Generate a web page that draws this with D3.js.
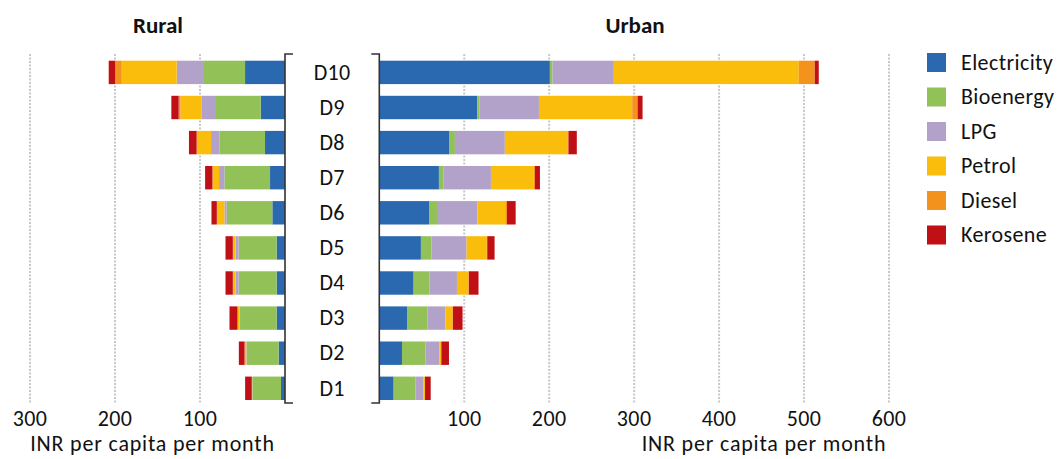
<!DOCTYPE html>
<html><head><meta charset="utf-8">
<script src="https://cdn.jsdelivr.net/npm/d3@7"></script>
<style>
body{margin:0;background:#fff;}
text{font-family:Carlito, Lato, "Open Sans", sans-serif;fill:#111;}
.lbl{font-size:22px;letter-spacing:0.4px;}
.ttl{font-size:22px;letter-spacing:0.8px;}
</style></head>
<body><svg id="c" width="1060" height="459"></svg>
<script>
const deciles = ["D1","D2","D3","D4","D5","D6","D7","D8","D9","D10"];
const fuels = ["Electricity","Bioenergy","LPG","Petrol","Diesel","Kerosene"];
const colors = ["#2a69b0","#92c157","#b2a2ca","#fbbd0b","#f4921e","#c01015"];
// Rural values, D1..D10
const ruralElectricity = [4.7, 7.5, 9.8, 9.8, 9.8, 14.9, 17.6, 23.5, 28.6, 47];
const ruralBioenergy   = [33.7, 37.6, 43.1, 44.7, 44.7, 53.7, 53.7, 53.7, 53.7, 49.4];
const ruralLPG         = [0.3, 0.5, 0.6, 3.5, 3.5, 2.7, 6.3, 9.8, 16.1, 31];
const ruralPetrol      = [0.4, 2.0, 2.4, 3.1, 3.1, 8.6, 7.5, 16.5, 24.7, 64.7];
const ruralDiesel      = [0, 0, 0, 0.3, 0.3, 0.3, 0.3, 0.5, 2.0, 7.8];
const ruralKerosene    = [7.8, 6.7, 9.4, 8.6, 8.6, 6.3, 8.6, 9.0, 8.6, 7.5];
// Urban values, D1..D10
const urbanElectricity = [16.9, 26.7, 32.6, 40.4, 49, 58.5, 70.2, 82.7, 115.3, 200.8];
const urbanBioenergy   = [25.9, 27.5, 24.3, 18.8, 12.5, 9.4, 5.1, 6.3, 2.4, 3.1];
const urbanLPG         = [9.0, 16.5, 20.8, 32.2, 41.2, 47.5, 56.1, 58.8, 70.2, 72.2];
const urbanPetrol      = [2.0, 2.0, 8.6, 13.7, 23.9, 32.9, 50.2, 73.7, 109.8, 217.7];
const urbanDiesel      = [0, 0.3, 0.3, 0.3, 0.5, 2.0, 1.6, 1.2, 6.3, 18.8];
const urbanKerosene    = [6.7, 9.0, 11.4, 11.4, 8.6, 10.2, 5.9, 9.8, 5.9, 4.7];
const ruralTicks = [100, 200, 300];
const urbanTicks = [100, 200, 300, 400, 500, 600];
const axisTitle = "INR per capita per month";

const ruralSeries = [ruralElectricity, ruralBioenergy, ruralLPG, ruralPetrol, ruralDiesel, ruralKerosene];
const urbanSeries = [urbanElectricity, urbanBioenergy, urbanLPG, urbanPetrol, urbanDiesel, urbanKerosene];

function table(series){
  return deciles.map((d,i)=>{const o={decile:d}; fuels.forEach((f,j)=>o[f]=series[j][i]); return o;});
}

const svg = d3.select("#c");
const y = d3.scaleBand().domain(deciles.slice().reverse()).range([60.7, 400]).paddingInner(0.333).paddingOuter(0);
const xR = d3.scaleLinear().domain([0,300]).range([285,30]);
const xU = d3.scaleLinear().domain([0,600]).range([379.3,889]);
const color = d3.scaleOrdinal().domain(fuels).range(colors);
const stack = d3.stack().keys(fuels);
const gTop = 54, gBot = 403;

// gridlines
function grid(x, ticks){
  svg.append("g").selectAll("line").data(ticks).join("line")
    .attr("x1",d=>x(d)).attr("x2",d=>x(d)).attr("y1",gTop).attr("y2",gBot)
    .attr("stroke","#c8c8c8").attr("stroke-width",2).attr("stroke-dasharray","2,1.5");
  svg.append("g").selectAll("text").data(ticks).join("text").attr("class","lbl")
    .attr("x",d=>x(d)).attr("y",426).attr("text-anchor","middle").text(d=>d);
}
grid(xR, ruralTicks); grid(xU, urbanTicks);

function bars(x, series){
  const st = stack(table(series));
  svg.append("g").selectAll("g").data(st).join("g").attr("fill",d=>color(d.key))
    .selectAll("rect").data(d=>d).join("rect")
    .attr("x",d=>Math.min(x(d[0]),x(d[1])))
    .attr("width",d=>Math.abs(x(d[1])-x(d[0])))
    .attr("y",d=>y(d.data.decile)).attr("height",y.bandwidth());
}
bars(xR, ruralSeries); bars(xU, urbanSeries);

// bracket axes
const ax = svg.append("g").attr("stroke","#333").attr("stroke-width",1.6).attr("fill","none");
ax.append("path").attr("d",`M${xR(0)+8},${gTop}H${xR(0)}V${gBot}H${xR(0)+8}`);
ax.append("path").attr("d",`M${xU(0)-8},${gTop}H${xU(0)}V${gBot}H${xU(0)-8}`);

// decile labels
svg.append("g").selectAll("text").data(deciles).join("text").attr("class","lbl")
  .attr("x",(xR(0)+xU(0))/2).attr("y",d=>y(d)+y.bandwidth()/2).attr("dy","0.33em")
  .attr("text-anchor","middle").text(d=>d);

// titles
svg.append("text").attr("x",158).attr("y",33).attr("text-anchor","middle")
  .style("font-size","23px").style("font-weight","bold").text("Rural");
svg.append("text").attr("x",635).attr("y",33).attr("text-anchor","middle")
  .style("font-size","23px").style("font-weight","bold").text("Urban");
svg.append("text").attr("class","ttl").attr("x",152.5).attr("y",451).attr("text-anchor","middle").text(axisTitle);
svg.append("text").attr("class","ttl").attr("x",764).attr("y",451).attr("text-anchor","middle").text(axisTitle);

// legend
const lg = svg.append("g").selectAll("g").data(fuels).join("g")
  .attr("transform",(d,i)=>`translate(927,${53+i*34.5})`);
lg.append("rect").attr("width",19).attr("height",19).attr("fill",d=>color(d));
lg.append("text").attr("class","lbl").attr("x",34).attr("y",9.5).attr("dy","0.33em").text(d=>d);
</script></body></html>
